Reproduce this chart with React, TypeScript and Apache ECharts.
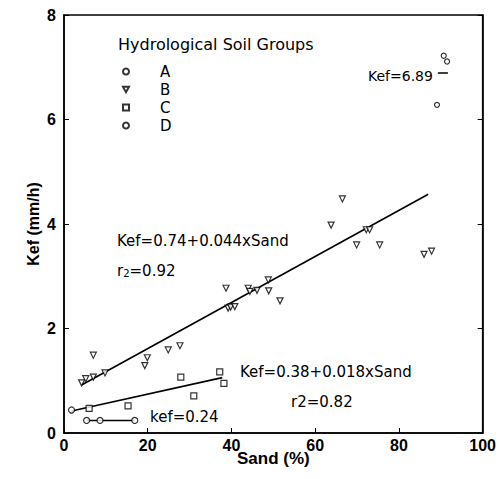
import React, { useEffect, useRef } from 'react';
import * as echarts from 'echarts';

const xTicks = [0, 20, 40, 60, 80, 100];
const yTicks = [0, 2, 4, 6, 8];
const groupA = [[89.1, 6.28], [90.7, 7.22], [91.5, 7.11]];
const groupB = [
  [4.2, 0.96], [5.2, 1.04], [7.0, 1.07], [7.0, 1.49], [9.8, 1.15], [19.3, 1.29], [19.9, 1.44],
  [24.9, 1.59], [27.7, 1.67], [38.7, 2.77], [39.2, 2.39], [39.8, 2.41], [40.8, 2.42], [44.0, 2.77],
  [44.4, 2.71], [46.1, 2.73], [48.8, 2.93], [48.9, 2.72], [51.6, 2.53], [63.8, 3.98], [66.5, 4.48],
  [69.9, 3.6], [72.2, 3.89], [73.0, 3.89], [75.4, 3.6], [86.0, 3.42], [87.8, 3.48],
];
const groupC = [[6.0, 0.47], [15.3, 0.52], [27.9, 1.07], [31.0, 0.71], [37.2, 1.17], [38.2, 0.95]];
const groupD = [[1.8, 0.44], [5.4, 0.24], [8.6, 0.24], [16.9, 0.24]];
const fitB = [[4.2, 0.92], [87, 4.57]];
const fitC = [[1.8, 0.42], [37.8, 1.06]];
const meanD = [[5.4, 0.24], [16.9, 0.24]];
const meanA = [[89.3, 6.89], [91.7, 6.89]];

const FONT = 'DejaVu Sans, sans-serif';
const AXFONT = 'Liberation Sans, Arial, sans-serif';
const hollow = { color: '#fff', borderColor: '#000', borderWidth: 1.2 };

export default function App() {
  const ref = useRef<HTMLDivElement>(null);
  useEffect(() => {
    const chart = echarts.init(ref.current!, undefined, { renderer: 'svg' });
    const lineSeries = (data: number[][]) => ({
      type: 'line', data, showSymbol: false, symbol: 'none',
      lineStyle: { color: '#000', width: 1.6 }, z: 1, silent: true,
    });
    const txt = (left: number, top: number, text: string, size = 15) => ({
      type: 'text', left, top,
      style: { text, fill: '#000', font: `${size}px ${FONT}` },
    });
    chart.setOption({
      animation: false,
      backgroundColor: '#fff',
      grid: { left: 64, right: 14, top: 15, bottom: 46, show: true, borderColor: '#000', borderWidth: 1.5 },
      xAxis: {
        type: 'value', min: xTicks[0], max: xTicks[xTicks.length - 1], interval: 20,
        name: 'Sand (%)', nameLocation: 'middle', nameGap: 17, nameMoveOverlap: false,
        nameTextStyle: { fontFamily: AXFONT, fontSize: 17, fontWeight: 'bold', color: '#000' },
        axisLine: { lineStyle: { color: '#000', width: 1.5 } },
        axisTick: { inside: true, length: 5, lineStyle: { color: '#000' } },
        axisLabel: { fontFamily: AXFONT, fontSize: 16, fontWeight: 'bold', color: '#000', margin: 4 },
        splitLine: { show: false },
      },
      yAxis: [
        {
          type: 'value', min: yTicks[0], max: yTicks[yTicks.length - 1], interval: 2,
          name: 'Kef (mm/h)', nameLocation: 'middle', nameGap: 23, nameMoveOverlap: false,
          nameTextStyle: { fontFamily: AXFONT, fontSize: 16, fontWeight: 'bold', color: '#000' },
          axisLine: { lineStyle: { color: '#000', width: 1.5 } },
          axisTick: { inside: true, length: 5, lineStyle: { color: '#000' } },
          axisLabel: { fontFamily: AXFONT, fontSize: 16, fontWeight: 'bold', color: '#000', margin: 8 },
          splitLine: { show: false },
        },
        {
          type: 'value', position: 'right', min: 0, max: 8, interval: 2,
          axisLine: { show: true, lineStyle: { color: '#000', width: 1.5 } },
          axisTick: { inside: true, length: 5, lineStyle: { color: '#000' } },
          axisLabel: { show: false }, splitLine: { show: false },
        },
      ],
      legend: {
        data: ['A', 'B', 'C', 'D'], orient: 'vertical', left: 117, top: 59,
        itemWidth: 6, itemHeight: 6, itemGap: 3, selectedMode: false,
        textStyle: { fontFamily: FONT, fontSize: 15, color: '#000', lineHeight: 15, padding: [0, 0, 0, 26] },
      },
      graphic: [
        txt(118, 36, 'Hydrological Soil Groups', 16),
        txt(368, 69, 'Kef=6.89', 14),
        txt(117, 233, 'Kef=0.74+0.044xSand'),
        {
          type: 'text', left: 117, top: 263,
          style: {
            text: '{a|r}{b|2}{a|=0.92}', fill: '#000',
            rich: {
              a: { fontFamily: FONT, fontSize: 15, fill: '#000' },
              b: { fontFamily: FONT, fontSize: 10, fill: '#000', verticalAlign: 'bottom', padding: [6, 0, 0, 0] },
            },
          },
        },
        txt(240, 364, 'Kef=0.38+0.018xSand'),
        txt(291, 394, 'r2=0.82'),
        txt(150, 409, 'kef=0.24'),
      ],
      series: [
        lineSeries(fitB), lineSeries(fitC), lineSeries(meanD), lineSeries(meanA),
        { name: 'A', type: 'scatter', data: groupA, symbol: 'circle', symbolSize: 5, itemStyle: hollow, z: 3 },
        { name: 'B', type: 'scatter', data: groupB, symbol: 'path://M0,0L10,0L5,9Z', symbolSize: [6, 6], itemStyle: hollow, z: 3 },
        { name: 'C', type: 'scatter', data: groupC, symbol: 'rect', symbolSize: 6, itemStyle: hollow, z: 3 },
        { name: 'D', type: 'scatter', data: groupD, symbol: 'circle', symbolSize: 6, itemStyle: hollow, z: 3 },
      ],
    });
    return () => chart.dispose();
  }, []);
  return <div ref={ref} style={{ position: 'fixed', left: 0, top: 0, width: 499, height: 479 }} />;
}
